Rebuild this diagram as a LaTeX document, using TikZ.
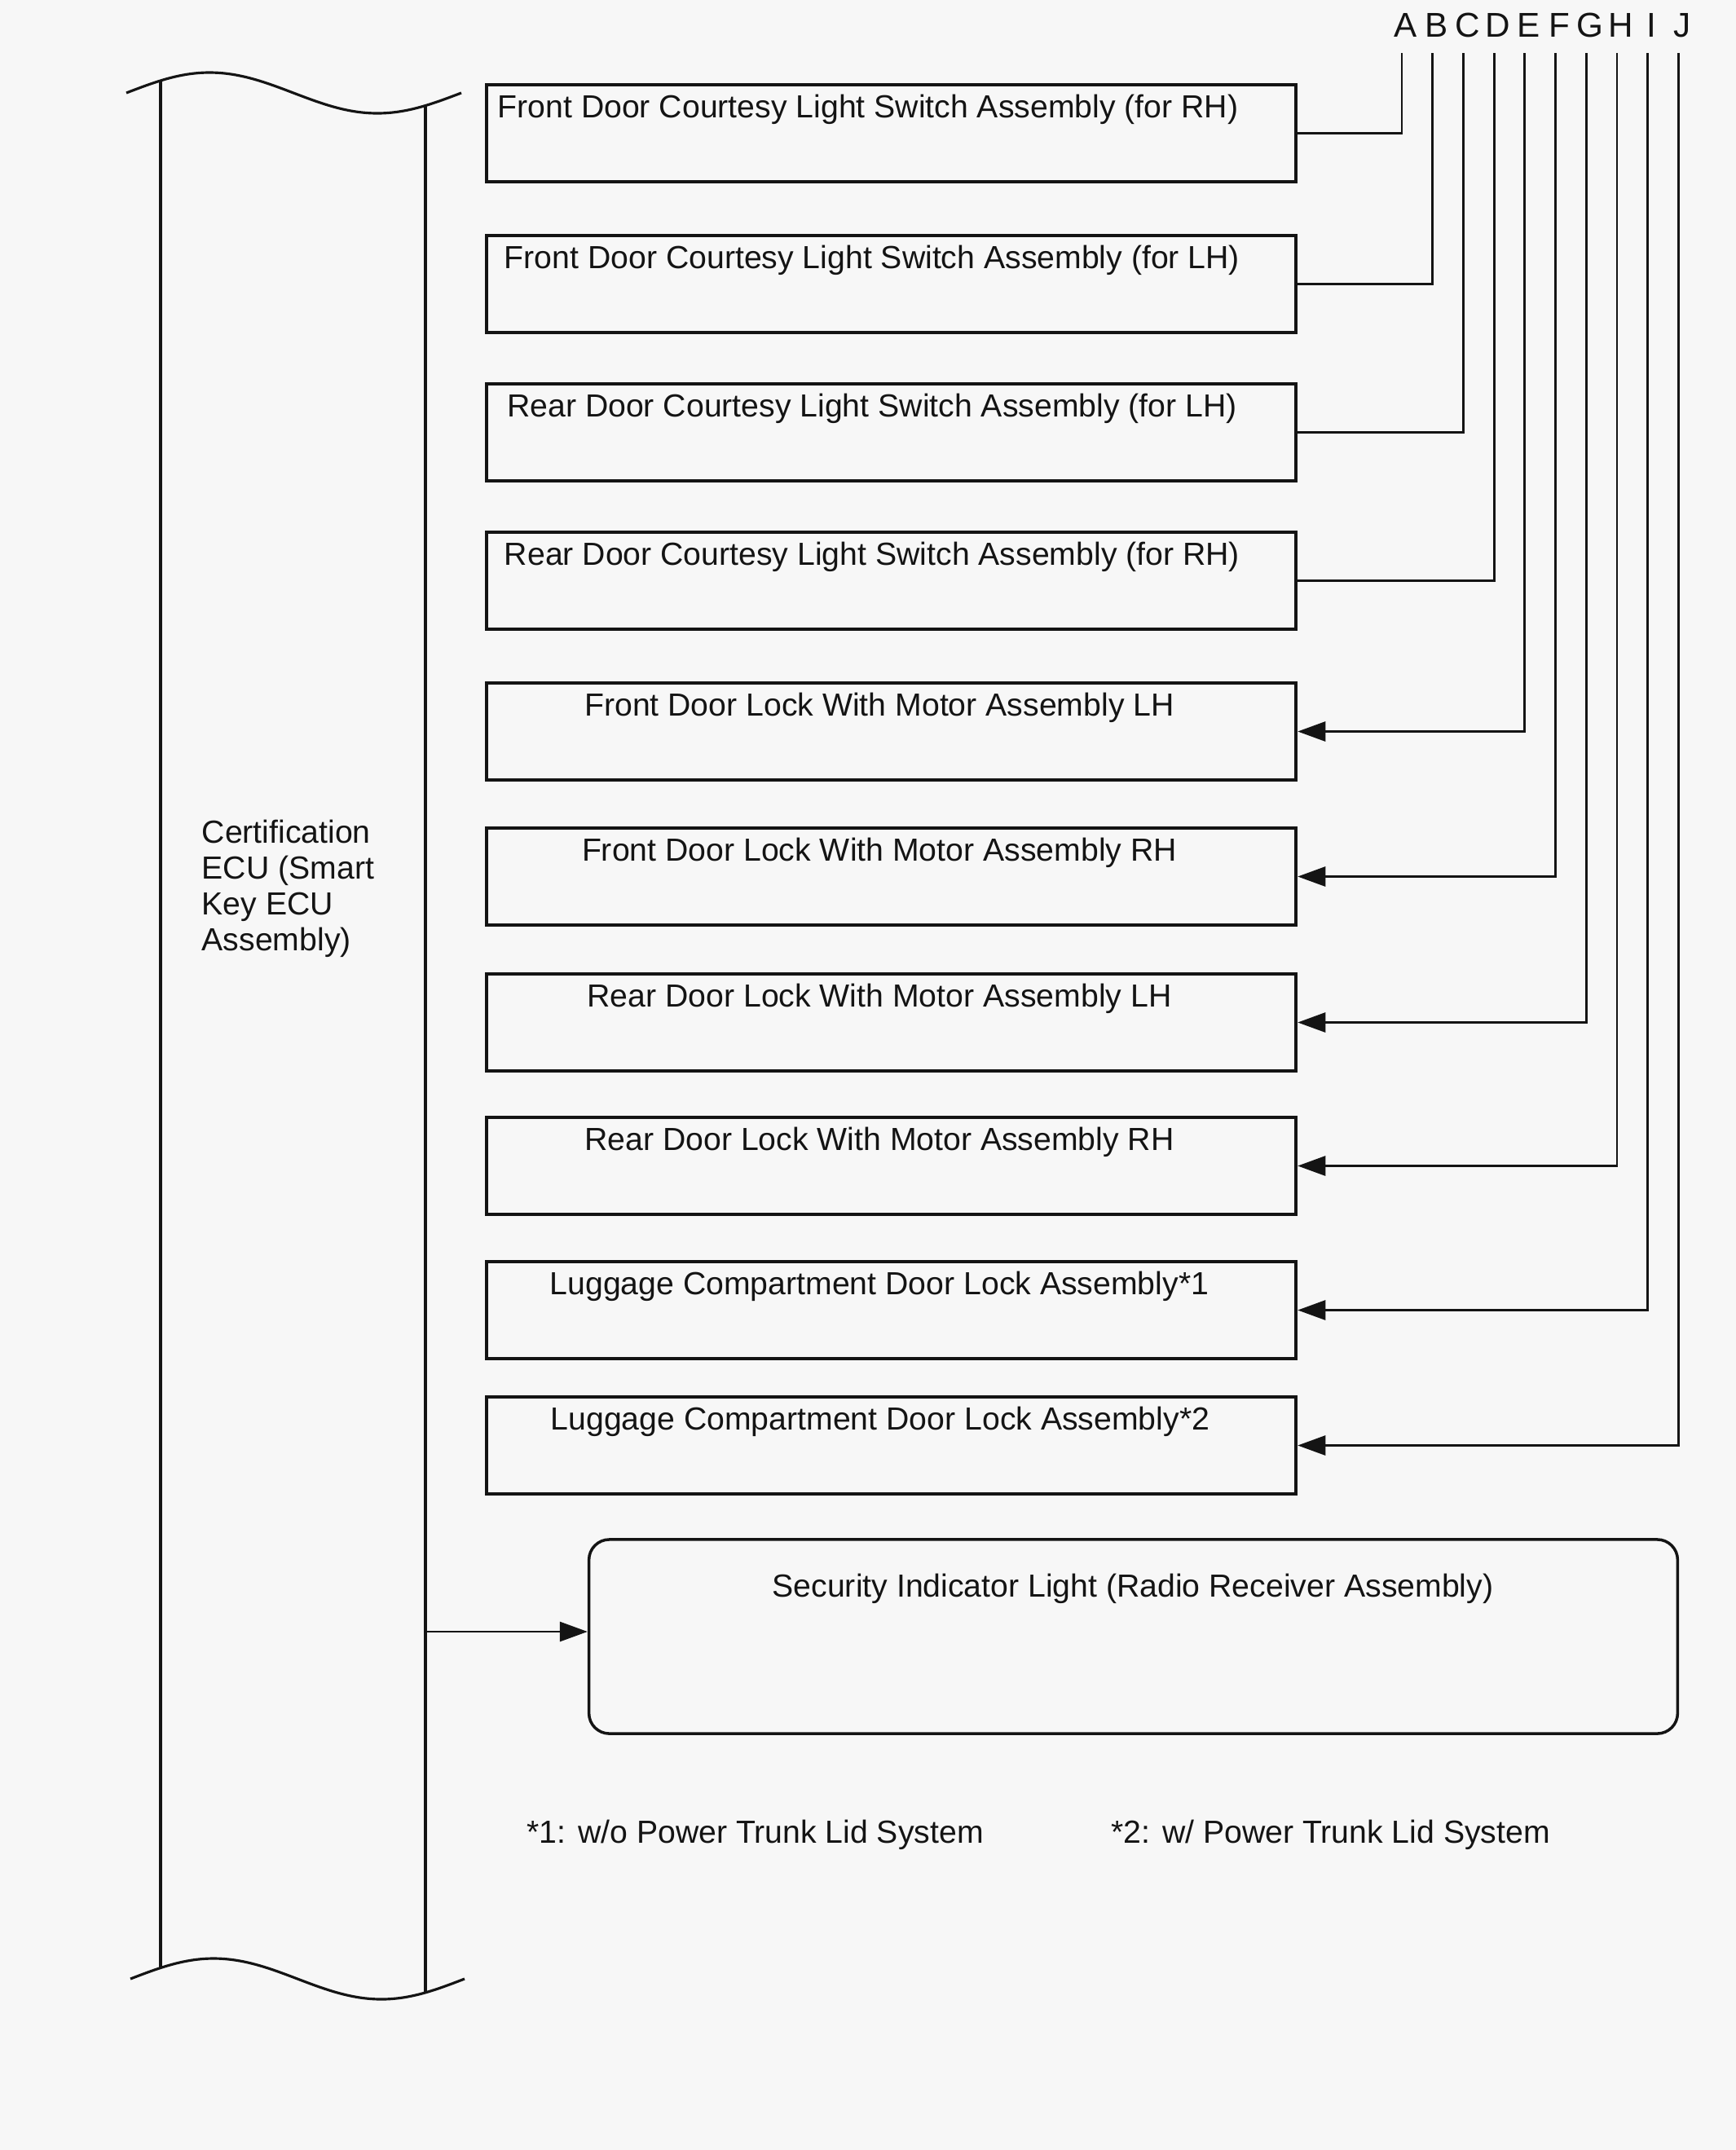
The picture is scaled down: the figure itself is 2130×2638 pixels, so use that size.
\documentclass[tikz,border=0pt]{standalone}
\usepackage{fontspec}
\setmainfont{Liberation Sans}
\usetikzlibrary{arrows.meta}
\definecolor{paper}{HTML}{F7F7F7}
\definecolor{ink}{HTML}{141414}

\begin{document}
\begin{tikzpicture}[x=0.01cm,y=-0.01cm,text=ink,
  font=\fontsize{11.15}{12.5}\selectfont,
  >={Triangle[length=3.4mm,width=2.4mm]},
  lbl/.style={inner sep=0pt},
  devbox/.style={draw=ink,line width=1.1pt,minimum width=9.93cm,
    minimum height=1.19cm,inner sep=0pt},
  wire/.style={draw=ink,line width=0.8pt}]
  \fill[paper] (0,0) rectangle (2130,2638);
  \useasboundingbox (0,0) rectangle (2130,2638);

  % ECU bar, broken at both ends
  \draw[ink,line width=0.9pt] (155,114) sin (257,89) cos (360,114)
    sin (463,139) cos (566,114);
  \draw[ink,line width=0.9pt] (160,2428) sin (262,2403) cos (365,2428)
    sin (468,2453) cos (570,2428);
  \draw[ink,line width=0.9pt] (197,99)--(197,2414);
  \draw[ink,line width=0.9pt] (522,129)--(522,2445);
  \node[lbl,align=left,anchor=west] (ecu) at (247,1090)
    {Certification\\ECU (Smart\\Key ECU\\Assembly)};

  \foreach \l [count=\n from 0] in {A,...,J}{
    \pgfmathsetmacro{\xx}{1720+37.7*\n}
    \node[lbl,anchor=base,font=\fontsize{12}{14}\selectfont] (l\l)
      at (\xx+5,45) {\l};
    \coordinate (t\l) at (\xx,65);
  }

  \foreach \i/\yt/\xt/\txt in {
    1/104/1065/{Front Door Courtesy Light Switch Assembly (for RH)},
    2/289/1070/{Front Door Courtesy Light Switch Assembly (for LH)},
    3/471/1070/{Rear Door Courtesy Light Switch Assembly (for LH)},
    4/653/1070/{Rear Door Courtesy Light Switch Assembly (for RH)},
    5/838/1079/{Front Door Lock With Motor Assembly LH},
    6/1016/1079/{Front Door Lock With Motor Assembly RH},
    7/1195/1079/{Rear Door Lock With Motor Assembly LH},
    8/1371/1079/{Rear Door Lock With Motor Assembly RH},
    9/1548/1079/{Luggage Compartment Door Lock Assembly*1},
    10/1714/1080/{Luggage Compartment Door Lock Assembly*2}}{
    \node[devbox] (b\i) at (1093.5,\yt+59.5) {};
    \node[lbl,anchor=base] (bt\i) at (\xt,\yt+40) {\txt};
  }
  \foreach \i/\l in {1/A,2/B,3/C,4/D}
    \draw[wire] (t\l) |- (b\i.east);
  \foreach \i/\l in {5/E,6/F,7/G,8/H,9/I,10/J}
    \draw[wire,->] (t\l) |- (b\i.east);

  \node[draw=ink,line width=1pt,rounded corners=0.25cm,
    minimum width=13.35cm,minimum height=2.38cm] (sec) at (1390.5,2008) {};
  \node[lbl,anchor=base] (sect) at (1390,1959)
    {Security Indicator Light (Radio Receiver Assembly)};
  \coordinate (ecuR) at (522,2002);
  \draw[wire,->] (ecuR)--(ecuR -| sec.west);

  \node[lbl,anchor=base west] (fn1) at (646,2261)
    {*1: w/o Power Trunk Lid System};
  \node[lbl,anchor=base west] (fn2) at (1363,2261)
    {*2: w/ Power Trunk Lid System};
\end{tikzpicture}
\end{document}
